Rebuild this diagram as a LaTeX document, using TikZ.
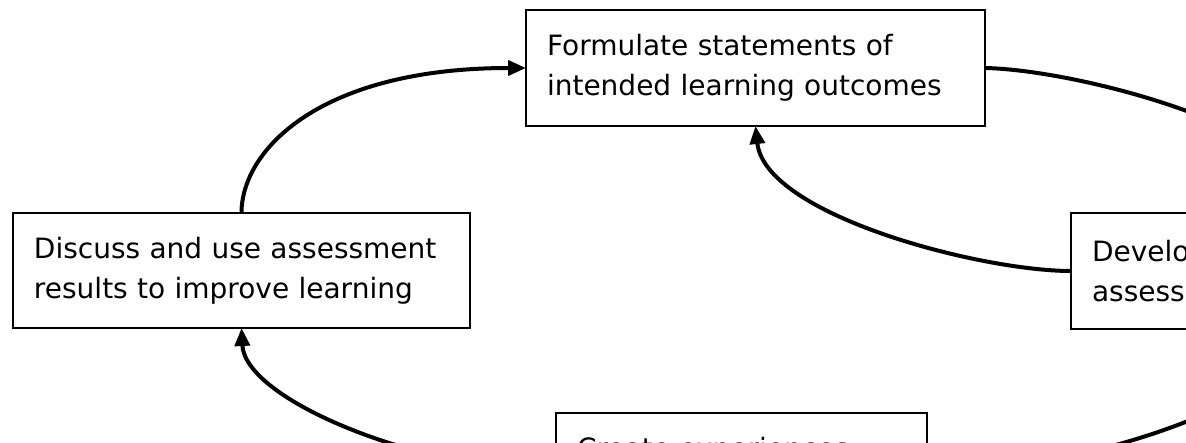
\documentclass[tikz,border=0pt]{standalone}
\usepackage{fontspec}
\setmainfont{DejaVu Sans}
\usetikzlibrary{arrows.meta}
\begin{document}
\begin{tikzpicture}[x=1pt,y=-1pt,
  stagebox/.style={draw=black, line width=2pt, rectangle, align=left,
    inner xsep=21pt, inner ysep=0pt, outer sep=0pt,
    font=\fontsize{28}{40}\selectfont, minimum height=116pt},
  flow/.style={line width=4pt, -{Triangle[length=18pt,width=15pt]}}]
\useasboundingbox (0,0) rectangle (1186,442);
\fill[white] (0,0) rectangle (1186,442);
\clip (0,0) rectangle (1186,442);

\node[stagebox, text width=417pt] (top) at (755.5,68)
  {Formulate statements of\\intended learning outcomes};
\node[stagebox, text width=415pt, minimum height=115pt] (dis) at (241.5,270.5)
  {Discuss and use assessment\\results to improve learning};
\node[stagebox, text width=417pt] (dev) at (1300.5,271)
  {Develop or select\\assessment measures};
\node[stagebox, text width=329pt] (cre) at (741.5,471)
  {Create experiences\\leading to outcomes};

\draw[flow] (top.east) .. controls (1080,70) and (1300.5,130) .. (dev.north);
\draw[flow] (dev.west) .. controls (980,271) and (765,215) .. (top.south);
\draw[flow] (dev.south) .. controls (1300.5,400) and (1080,471) .. (cre.east);
\draw[flow] (cre.west) .. controls (420,471) and (245,400) .. (dis.south);
\draw[flow] (dis.north) .. controls (241.5,150) and (320,68) .. (top.west);
\end{tikzpicture}
\end{document}
